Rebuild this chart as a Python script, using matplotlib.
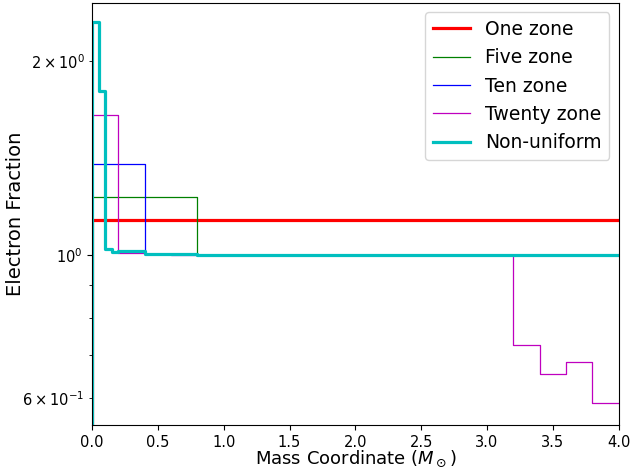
import numpy as np
import matplotlib
matplotlib.use('Agg')
import matplotlib.pyplot as plt

# zone edges (mass coordinate, solar masses) and electron fraction per zone
one_edges = [0.0, 4.0]
one_ye = [1.133]

five_edges = [0.0, 0.8, 1.6, 2.4, 3.2, 4.0]
five_ye = [1.23, 1.002, 1.0, 1.0, 1.0]

ten_edges = [0.0, 0.4, 0.8, 1.2, 1.6, 2.0, 2.4, 2.8, 3.2, 3.6, 4.0]
ten_ye = [1.384, 1.003, 1.0, 1.0, 1.0, 1.0, 1.0, 1.0, 1.0, 1.0]

twenty_edges = [0.0, 0.2, 0.4, 0.6, 0.8, 1.0, 1.2, 1.4, 1.6, 1.8, 2.0,
                2.2, 2.4, 2.6, 2.8, 3.0, 3.2, 3.4, 3.6, 3.8, 4.0]
twenty_ye = [1.649, 1.007, 1.003, 1.001, 1.0, 1.0, 1.0, 1.0, 1.0, 1.0,
             1.0, 1.0, 1.0, 1.0, 1.0, 1.0, 0.725, 0.654, 0.682, 0.589]

nonuni_edges = [0.0, 0.05, 0.1, 0.15, 0.2, 0.4, 0.8, 1.6, 4.0]
nonuni_ye = [2.30, 1.797, 1.022, 1.011, 1.014, 1.005, 1.002, 1.0]


def zone_line(ax, edges, ye, **kw):
    # step from zero at the centre so the profile rises out of the axis
    y = np.r_[0.0, ye]
    ax.step(edges, y, where='pre', **kw)


fig, ax = plt.subplots(figsize=(6.32, 4.70), dpi=100)
fig.subplots_adjust(left=0.1456, right=0.979, top=0.9936, bottom=0.0957)

zone_line(ax, one_edges, one_ye, color='r', lw=2.3, label='One zone')
zone_line(ax, five_edges, five_ye, color='g', lw=0.9, label='Five zone')
zone_line(ax, ten_edges, ten_ye, color='b', lw=0.9, label='Ten zone')
zone_line(ax, twenty_edges, twenty_ye, color='m', lw=0.9, label='Twenty zone')
zone_line(ax, nonuni_edges, nonuni_ye, color='c', lw=2.3, label='Non-uniform')

ax.set_yscale('log')
ax.set_xlim(0, 4)
ax.set_ylim(0.545, 2.46)
ax.tick_params(which='both', labelsize=10.5)
ax.set_xlabel(r'Mass Coordinate ($M_\odot$)', fontsize=13)
ax.set_ylabel('Electron Fraction', fontsize=14)
ax.xaxis.set_label_coords(0.5, -0.055)
ax.yaxis.set_label_coords(-0.127, 0.5)
ax.legend(loc='upper right', fontsize=13.5)

fig.savefig('out.png', dpi=100)
